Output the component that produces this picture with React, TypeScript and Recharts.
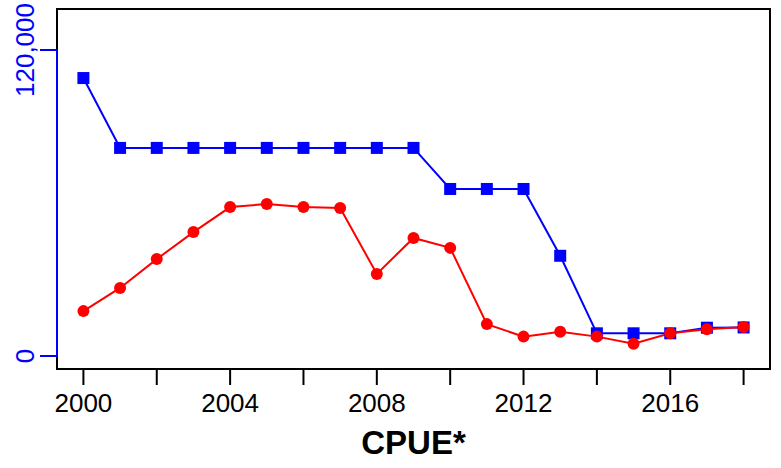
import React from "react";
import {
  LineChart,
  Line,
  XAxis,
  YAxis,
  ReferenceArea,
  ReferenceLine,
} from "recharts";

const years = [2000, 2001, 2002, 2003, 2004, 2005, 2006, 2007, 2008, 2009, 2010, 2011, 2012, 2013, 2014, 2015, 2016, 2017, 2018];
const blueValues = [109000, 81600, 81600, 81600, 81600, 81600, 81600, 81600, 81600, 81600, 65500, 65500, 65500, 39300, 8900, 8900, 8900, 11100, 11200];
const redValues = [17600, 26700, 38000, 48600, 58400, 59600, 58400, 58000, 32200, 46300, 42400, 12500, 7600, 9500, 7600, 4800, 8900, 10500, 11400];
const xTicks = [2000, 2002, 2004, 2006, 2008, 2010, 2012, 2014, 2016, 2018];
const xLabelYears = [2000, 2004, 2008, 2012, 2016];
const yTicks = [0, 120000];
const yTickLabels = ["0", "120,000"];
const xDomain = [1999.28, 2018.72];
const yDomain = [-5098, 136078];
const title = "CPUE*";

const data = years.map((year, i) => ({ year, blue: blueValues[i], red: redValues[i] }));

const FONT = "'Liberation Sans', Arial, Helvetica, sans-serif";

const SquareDot = (props: any) => {
  const { cx, cy } = props;
  if (cx == null || cy == null) return null;
  return <rect x={cx - 6} y={cy - 6} width={12} height={12} fill="#0000FF" />;
};

const CircleDot = (props: any) => {
  const { cx, cy } = props;
  if (cx == null || cy == null) return null;
  return <circle cx={cx} cy={cy} r={6} fill="#FF0000" />;
};

const XTick = (props: any) => {
  const { x, y, payload } = props;
  if (!xLabelYears.includes(payload.value)) return <g />;
  return (
    <text x={x} y={y + 27} textAnchor="middle" fontFamily={FONT} fontSize={26} fill="#000">
      {String(payload.value)}
    </text>
  );
};

const YTick = (props: any) => {
  const { x, y, payload } = props;
  const idx = yTicks.indexOf(payload.value);
  const label = idx >= 0 ? yTickLabels[idx] : String(payload.value);
  const bx = x - 6;
  return (
    <text
      x={bx}
      y={y}
      transform={`rotate(-90, ${bx}, ${y})`}
      textAnchor="middle"
      fontFamily={FONT}
      fontSize={26}
      fill="#0000FF"
    >
      {label}
    </text>
  );
};

const TitleLabel = (props: any) => {
  const vb = props.viewBox || {};
  return (
    <text
      x={vb.x + vb.width / 2}
      y={vb.y + 85}
      textAnchor="middle"
      fontFamily={FONT}
      fontSize={33}
      fontWeight="bold"
      fill="#000"
    >
      {title}
    </text>
  );
};

export default function App() {
  return (
    <div style={{ width: 781, height: 468, background: "#fff" }}>
      <style>{"body{margin:0;background:#fff}"}</style>
      <LineChart
        width={781}
        height={468}
        data={data}
        margin={{ top: 9, right: 11, left: 0, bottom: 0 }}
      >
        <XAxis
          dataKey="year"
          type="number"
          domain={xDomain}
          ticks={xTicks}
          interval={0}
          allowDataOverflow
          axisLine={false}
          tickLine={{ stroke: "#000", strokeWidth: 2 }}
          tickSize={16}
          tickMargin={0}
          height={99}
          tick={<XTick />}
          label={<TitleLabel />}
        />
        <YAxis
          type="number"
          domain={yDomain}
          ticks={yTicks}
          interval={0}
          allowDataOverflow
          axisLine={false}
          tickLine={{ stroke: "#0000FF", strokeWidth: 2 }}
          tickSize={17}
          tickMargin={0}
          width={57}
          tick={<YTick />}
        />
        <ReferenceArea
          x1={xDomain[0]}
          x2={xDomain[1]}
          y1={yDomain[0]}
          y2={yDomain[1]}
          fill="none"
          fillOpacity={0}
          stroke="#000"
          strokeWidth={2}
          ifOverflow="visible"
        />
        <ReferenceLine
          segment={[
            { x: xDomain[0], y: yTicks[0] },
            { x: xDomain[0], y: yTicks[1] },
          ]}
          stroke="#0000FF"
          strokeWidth={2}
          ifOverflow="visible"
        />
        <Line
          dataKey="blue"
          type="linear"
          stroke="#0000FF"
          strokeWidth={2}
          dot={<SquareDot />}
          activeDot={false}
          isAnimationActive={false}
        />
        <Line
          dataKey="red"
          type="linear"
          stroke="#FF0000"
          strokeWidth={2}
          dot={<CircleDot />}
          activeDot={false}
          isAnimationActive={false}
        />
      </LineChart>
    </div>
  );
}
